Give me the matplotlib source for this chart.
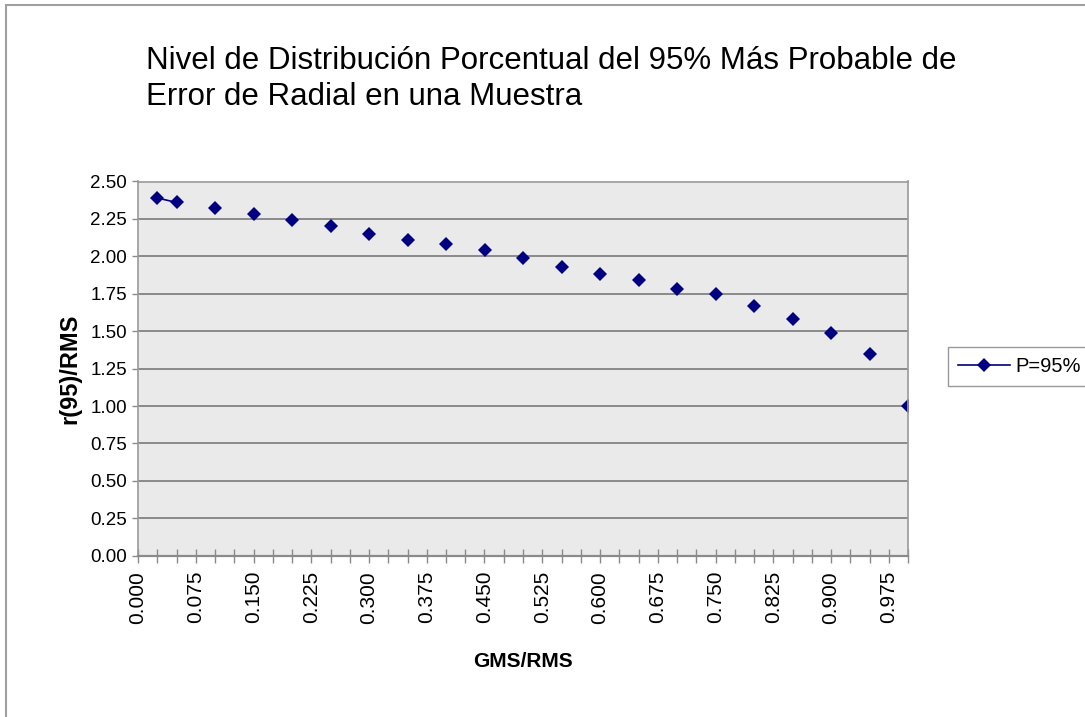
import numpy as np
import pandas as pd
import matplotlib
matplotlib.use("Agg")
import matplotlib.pyplot as plt
from matplotlib.patches import Rectangle
from matplotlib.ticker import (MultipleLocator, FixedLocator, FixedFormatter,
                               FormatStrFormatter)

plt.rcParams['font.family'] = ['Liberation Sans', 'DejaVu Sans']

# GMS/RMS ratio and the 95% radial error factor r(95)/RMS
gms_rms = [0.025, 0.05, 0.10, 0.15, 0.20, 0.25, 0.30, 0.35, 0.40, 0.45, 0.50,
           0.55, 0.60, 0.65, 0.70, 0.75, 0.80, 0.85, 0.90, 0.95, 1.00]
r95_rms = [2.39, 2.36, 2.32, 2.28, 2.24, 2.20, 2.15, 2.11, 2.08, 2.04, 1.99,
           1.93, 1.88, 1.84, 1.78, 1.75, 1.67, 1.58, 1.49, 1.35, 1.00]

x_labels = ["0.000", "0.075", "0.150", "0.225", "0.300", "0.375", "0.450",
            "0.525", "0.600", "0.675", "0.750", "0.825", "0.900", "0.975"]
series_name = "P=95%"

# put the series on the 0.025 grid so missing steps leave gaps in the line
grid = np.round(np.arange(1, 41) * 0.025, 3)
series = pd.Series(r95_rms, index=np.round(gms_rms, 3)).reindex(grid)

fig = plt.figure(figsize=(10.85, 7.17), dpi=100)
ax = fig.add_axes([138 / 1085, 1 - 555.7 / 717, 770 / 1085, 374.2 / 717])
ax.set_facecolor('#eaeaea')

line, = ax.plot(series.index, series.values, color='#000080', lw=1.2,
                marker='D', ms=7, mec='#000080', mew=0, label=series_name)

ax.set_xlim(0, 1.0)
ax.set_ylim(0, 2.5)

# horizontal gridlines
ax.yaxis.set_major_locator(MultipleLocator(0.25))
ax.yaxis.set_major_formatter(FormatStrFormatter('%.2f'))
ax.yaxis.grid(True, color='#8a8a8a', lw=1.4)
ax.set_axisbelow(True)

ax.xaxis.set_major_locator(FixedLocator(np.arange(len(x_labels)) * 0.075))
ax.xaxis.set_major_formatter(FixedFormatter(x_labels))
ax.xaxis.set_minor_locator(MultipleLocator(0.025))

ax.tick_params(axis='x', which='both', direction='inout', length=10,
               color='#8a8a8a', width=1, labelrotation=90, labelsize=15, pad=6)
ax.tick_params(axis='y', direction='out', length=4, color='#8a8a8a',
               width=1, labelsize=13.5, pad=4)

for s in ax.spines.values():
    s.set_color('#9a9a9a')
    s.set_linewidth(1.2)
ax.spines['bottom'].set_color('#8a8a8a')
ax.spines['bottom'].set_linewidth(1.6)

ax.set_xlabel("GMS/RMS", fontsize=15, fontweight='bold', labelpad=20)
ax.set_ylabel("r(95)/RMS", fontsize=17, fontweight='bold', labelpad=6)

fig.text(146 / 1085, 1 - 46 / 717,
         "Nivel de Distribución Porcentual del 95% Más Probable de\nError de Radial en una Muestra",
         fontsize=22.5, ha='left', va='top', linespacing=1.25)

fig.legend(handles=[line], loc='upper left',
           bbox_to_anchor=(948 / 1085, 1 - 347 / 717),
           fontsize=14.5, frameon=True, fancybox=False, edgecolor='#808080',
           handlelength=2.6, handletextpad=0.25, borderpad=0.5,
           borderaxespad=0)

# outer chart border
fig.patches.append(Rectangle((6 / 1085, -0.05), 1.2, 1.05 - 5 / 717,
                             transform=fig.transFigure, fill=False,
                             edgecolor='#a0a0a0', lw=1.5))

fig.savefig("out.png", dpi=100)
